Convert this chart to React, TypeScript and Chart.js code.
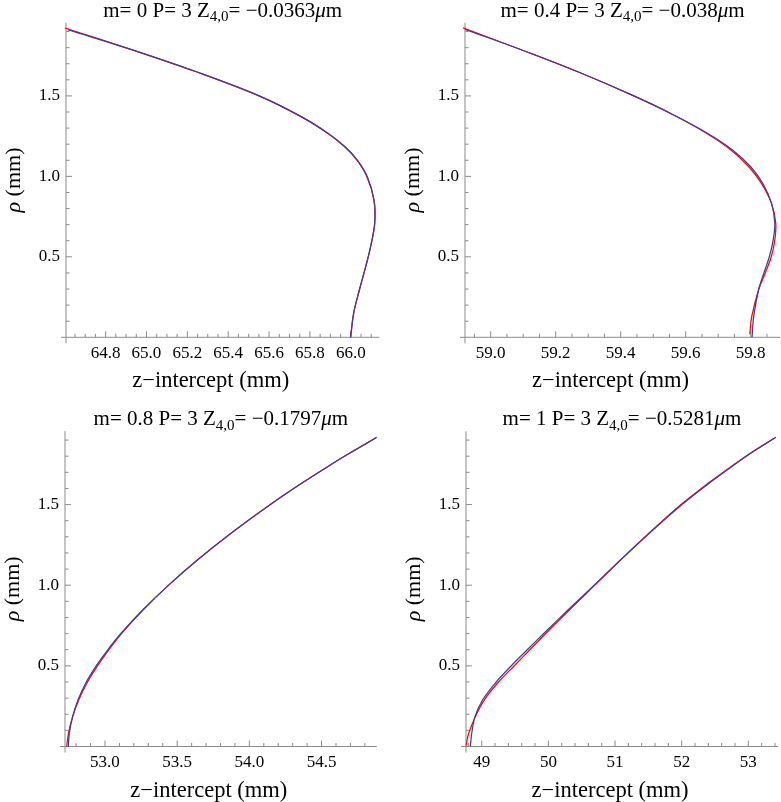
import React, { useEffect, useRef } from 'react';
import { Chart, registerables } from 'chart.js';
Chart.register(...registerables);

// ---------------- data (rho in mm, z-intercept in mm) ----------------
// Panel 1: m = 0
const p1BlueRho = [0, 0.149, 0.294, 0.439, 0.563, 0.708, 0.853, 0.998, 1.101, 1.184, 1.267, 1.37, 1.499, 1.65, 1.785, 1.912];
const p1BlueZ = [65.999, 66.014, 66.042, 66.073, 66.097, 66.117, 66.114, 66.081, 66.032, 65.972, 65.89, 65.76, 65.555, 65.245, 64.935, 64.614];
const p1RedRho = [0, 0.149, 0.294, 0.439, 0.563, 0.708, 0.853, 0.998, 1.101, 1.184, 1.267, 1.37, 1.499, 1.65, 1.785, 1.922];
const p1RedZ = [65.999, 66.014, 66.042, 66.073, 66.097, 66.117, 66.113, 66.079, 66.03, 65.97, 65.888, 65.758, 65.553, 65.243, 64.933, 64.6];
const p1XTicks = [64.8, 65.0, 65.2, 65.4, 65.6, 65.8, 66.0];

// Panel 2: m = 0.4
const p2BlueRho = [0, 0.128, 0.294, 0.397, 0.499, 0.604, 0.708, 0.832, 0.957, 1.06, 1.163, 1.267, 1.391, 1.499, 1.65, 1.784, 1.913];
const p2BlueZ = [59.804, 59.809, 59.824, 59.84, 59.857, 59.869, 59.874, 59.864, 59.837, 59.8, 59.745, 59.668, 59.554, 59.442, 59.268, 59.098, 58.921];
const p2RedRho = [0.019, 0.128, 0.294, 0.397, 0.499, 0.604, 0.708, 0.832, 0.957, 1.06, 1.163, 1.267, 1.391, 1.499, 1.65, 1.784, 1.923];
const p2RedZ = [59.797, 59.803, 59.824, 59.844, 59.863, 59.874, 59.877, 59.864, 59.833, 59.794, 59.74, 59.665, 59.554, 59.442, 59.268, 59.098, 58.915];
const p2XTicks = [59.0, 59.2, 59.4, 59.6, 59.8];

// Panel 3: m = 0.8
const p3BlueRho = [0, 0.082, 0.185, 0.288, 0.392, 0.501, 0.598, 0.702, 0.846, 0.999, 1.156, 1.322, 1.502, 1.632, 1.735, 1.818, 1.914];
const p3BlueZ = [52.746, 52.753, 52.776, 52.813, 52.866, 52.94, 53.018, 53.112, 53.261, 53.439, 53.64, 53.873, 54.148, 54.362, 54.542, 54.693, 54.879];
const p3RedRho = [0, 0.082, 0.185, 0.288, 0.392, 0.501, 0.598, 0.702, 0.846, 0.999, 1.156, 1.322, 1.502, 1.632, 1.735, 1.818, 1.918];
const p3RedZ = [52.735, 52.747, 52.776, 52.818, 52.874, 52.949, 53.025, 53.116, 53.263, 53.439, 53.64, 53.873, 54.148, 54.362, 54.542, 54.694, 54.882];
const p3XTicks = [53.0, 53.5, 54.0, 54.5];

// Panel 4: m = 1
const p4BlueRho = [0, 0.082, 0.185, 0.288, 0.392, 0.501, 0.598, 0.702, 0.846, 0.999, 1.156, 1.322, 1.502, 1.632, 1.735, 1.818, 1.914];
const p4BlueZ = [48.829, 48.85, 48.899, 49.012, 49.2, 49.444, 49.679, 49.934, 50.294, 50.683, 51.082, 51.514, 52.01, 52.41, 52.75, 53.036, 53.401];
const p4RedRho = [0.006, 0.082, 0.185, 0.288, 0.392, 0.501, 0.598, 0.702, 0.846, 0.999, 1.156, 1.322, 1.502, 1.632, 1.735, 1.818, 1.918];
const p4RedZ = [48.764, 48.805, 48.904, 49.037, 49.235, 49.489, 49.719, 49.964, 50.314, 50.693, 51.082, 51.509, 51.995, 52.395, 52.74, 53.031, 53.415];
const p4XTicks = [49, 50, 51, 52, 53];

const yTicks = [0.5, 1.0, 1.5];
const titleM = ['0', '0.4', '0.8', '1'];
const titleP = '3';
const titleZ = ['−0.0363', '−0.038', '−0.1797', '−0.5281'];
const xAxisTitle = 'z−intercept (mm)';
const yAxisTitle = ' (mm)';

// ---------------- layout ----------------
const FONT = '"Liberation Serif", "Times New Roman", serif';

type Pt = { x: number; y: number };
const zip = (rho: number[], z: number[]): Pt[] => rho.map((r, i) => ({ x: z[i], y: r }));

type Panel = {
  left: number; top: number; w: number; h: number;
  area: { l: number; r: number; t: number; b: number };
  xMin: number; xMax: number; xMajor: number[]; xMinor: number; dec: number;
  idx: number; blue: Pt[]; red: Pt[];
};

const panels: Panel[] = [
  { left: 0, top: 0, w: 390, h: 400, area: { l: 66, r: 379.4, t: 22.7, b: 337.3 },
    xMin: 64.606, xMax: 66.14, xMajor: p1XTicks, xMinor: 0.05, dec: 1, idx: 0,
    blue: zip(p1BlueRho, p1BlueZ), red: zip(p1RedRho, p1RedZ) },
  { left: 390, top: 0, w: 391, h: 400, area: { l: 75, r: 390, t: 22.7, b: 337.3 },
    xMin: 58.921, xMax: 59.89, xMajor: p2XTicks, xMinor: 0.05, dec: 1, idx: 1,
    blue: zip(p2BlueRho, p2BlueZ), red: zip(p2RedRho, p2RedZ) },
  { left: 0, top: 400, w: 390, h: 402, area: { l: 65, r: 376.7, t: 31.2, b: 346.5 },
    xMin: 52.723, xMax: 54.882, xMajor: p3XTicks, xMinor: 0.1, dec: 1, idx: 2,
    blue: zip(p3BlueRho, p3BlueZ), red: zip(p3RedRho, p3RedZ) },
  { left: 390, top: 400, w: 391, h: 402, area: { l: 76, r: 388, t: 31.2, b: 346.5 },
    xMin: 48.764, xMax: 53.445, xMajor: p4XTicks, xMinor: 0.2, dec: 0, idx: 3,
    blue: zip(p4BlueRho, p4BlueZ), red: zip(p4RedRho, p4RedZ) },
];

const AXIS_COLOR = '#8a8a8a';

function makePlugin(p: Panel) {
  return {
    id: 'mmaAxes' + p.idx,
    beforeDatasetsDraw(chart: any) {
      const ctx = chart.ctx as CanvasRenderingContext2D;
      const xs = chart.scales.x;
      const ys = chart.scales.y;
      const { left, right, top, bottom } = chart.chartArea;
      ctx.save();
      ctx.strokeStyle = AXIS_COLOR;
      ctx.lineWidth = 1;
      ctx.beginPath();
      ctx.moveTo(left - 5, bottom);
      ctx.lineTo(right, bottom);
      ctx.moveTo(left, top);
      ctx.lineTo(left, bottom + 6);
      const s = p.xMinor;
      for (let k = Math.ceil(p.xMin / s - 1e-6); k * s <= p.xMax + 1e-9; k++) {
        const v = k * s;
        const major = p.xMajor.some((m) => Math.abs(m - v) < 1e-6);
        const px = xs.getPixelForValue(v);
        if (px <= left + 1) continue;
        ctx.moveTo(px, bottom);
        ctx.lineTo(px, bottom - (major ? 6 : 3.5));
      }
      for (let k = 1; k * 0.1 <= 1.955; k++) {
        const v = k * 0.1;
        const major = yTicks.some((m) => Math.abs(m - v) < 1e-6);
        const py = ys.getPixelForValue(v);
        ctx.moveTo(left, py);
        ctx.lineTo(left + (major ? 6 : 3.5), py);
      }
      ctx.stroke();
      ctx.restore();
    },
    afterDraw(chart: any) {
      const ctx = chart.ctx as CanvasRenderingContext2D;
      const { left, right, top, bottom } = chart.chartArea;
      ctx.save();
      ctx.fillStyle = '#000';
      const fs = 21;
      const parts = [
        { t: 'm= ' + titleM[p.idx] + ' P= ' + titleP + ' Z', f: `${fs}px ${FONT}`, dy: 0 },
        { t: '4,0', f: `${Math.round(fs * 0.7)}px ${FONT}`, dy: 4.5 },
        { t: '= ' + titleZ[p.idx], f: `${fs}px ${FONT}`, dy: 0 },
        { t: 'μ', f: `italic ${fs}px ${FONT}`, dy: 0 },
        { t: 'm', f: `${fs}px ${FONT}`, dy: 0 },
      ];
      let total = 0;
      const ws = parts.map((pt) => { ctx.font = pt.f; const w = ctx.measureText(pt.t).width; total += w; return w; });
      let x = (left + right) / 2 - total / 2;
      const base = top - 6;
      ctx.textBaseline = 'alphabetic';
      ctx.textAlign = 'left';
      parts.forEach((pt, i) => { ctx.font = pt.f; ctx.fillText(pt.t, x, base + pt.dy); x += ws[i]; });

      ctx.font = `22.5px ${FONT}`;
      ctx.textAlign = 'center';
      ctx.fillText(xAxisTitle, (left + right) / 2 - 12, bottom + 50);

      ctx.translate(left - 52, (top + bottom) / 2);
      ctx.rotate(-Math.PI / 2);
      ctx.textBaseline = 'middle';
      ctx.textAlign = 'left';
      ctx.font = `italic 22px ${FONT}`;
      const w1 = ctx.measureText('ρ').width;
      ctx.font = `22px ${FONT}`;
      const w2 = ctx.measureText(yAxisTitle).width;
      const x0 = -(w1 + w2) / 2;
      ctx.font = `italic 22px ${FONT}`;
      ctx.fillText('ρ', x0, 0);
      ctx.font = `22px ${FONT}`;
      ctx.fillText(yAxisTitle, x0 + w1, 0);
      ctx.restore();
    },
  };
}

function PanelChart({ p }: { p: Panel }) {
  const ref = useRef<HTMLCanvasElement | null>(null);
  useEffect(() => {
    if (!ref.current) return;
    const a = p.area;
    const tickFont = { family: FONT, size: 17 };
    const lineDs = (label: string, data: Pt[], color: string) => ({
      label, data, showLine: true, borderColor: color, borderWidth: 1.25, pointRadius: 0,
      tension: 0.35, clip: false, fill: false,
    });
    const chart = new Chart(ref.current, {
      type: 'scatter',
      data: {
        datasets: [
          lineDs('fit', p.blue, '#3d3d99') as any,
          lineDs('exact', p.red, '#ff0000') as any,
        ],
      },
      options: {
        animation: false,
        responsive: false,
        maintainAspectRatio: false,
        devicePixelRatio: 1,
        layout: { padding: { left: 0, top: a.t, right: p.w - a.r, bottom: 0 } },
        plugins: { legend: { display: false }, tooltip: { enabled: false }, title: { display: false } },
        scales: {
          x: {
            type: 'linear', position: 'bottom', min: p.xMin, max: p.xMax,
            grid: { display: false, drawTicks: false }, border: { display: false },
            ticks: { font: tickFont, color: '#000', padding: 6, maxRotation: 0, autoSkip: false,
              callback: (v: any) => Number(v).toFixed(p.dec) },
            afterBuildTicks: (s: any) => { s.ticks = p.xMajor.map((v) => ({ value: v })); },
            afterFit: (s: any) => { s.height = p.h - a.b; },
          },
          y: {
            type: 'linear', position: 'left', min: 0, max: 1.955,
            grid: { display: false, drawTicks: false }, border: { display: false },
            ticks: { font: tickFont, color: '#000', padding: 6, autoSkip: false,
              callback: (v: any) => Number(v).toFixed(1) },
            afterBuildTicks: (s: any) => { s.ticks = yTicks.map((v) => ({ value: v })); },
            afterFit: (s: any) => { s.width = a.l; },
          },
        },
      } as any,
      plugins: [makePlugin(p)],
    });
    return () => chart.destroy();
  }, [p]);
  return (
    <canvas
      ref={ref}
      width={p.w}
      height={p.h}
      style={{ position: 'absolute', left: p.left, top: p.top, width: p.w, height: p.h }}
    />
  );
}

export default function App() {
  return (
    <div style={{ position: 'absolute', left: 0, top: 0, width: 781, height: 802, background: '#fff' }}>
      {panels.map((p) => (
        <PanelChart key={p.idx} p={p} />
      ))}
    </div>
  );
}
